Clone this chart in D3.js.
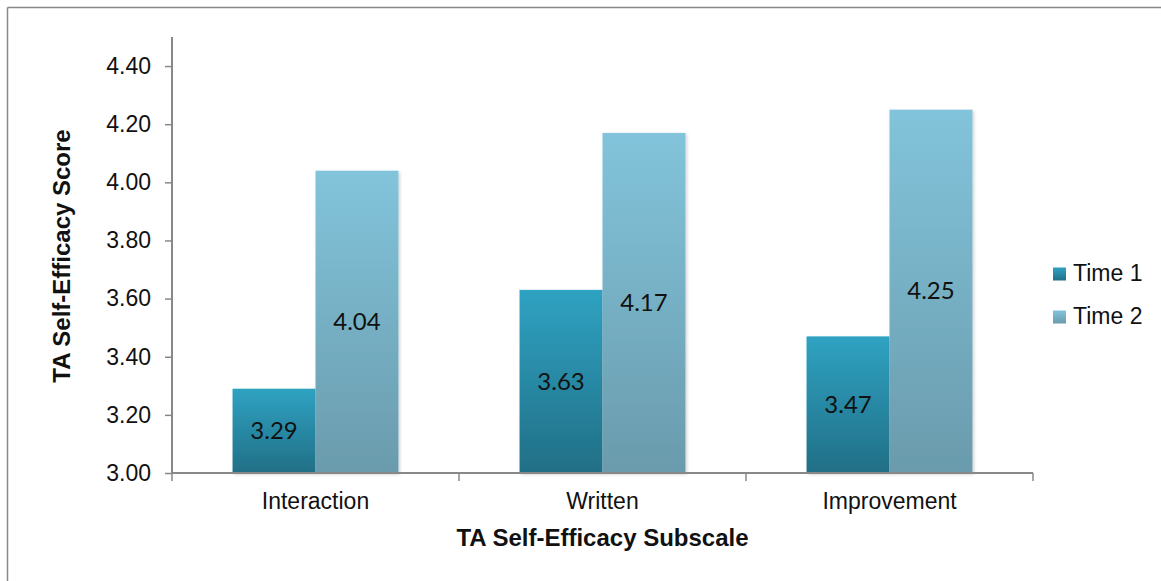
<!DOCTYPE html>
<html><head><meta charset="utf-8">
<script src="https://cdn.jsdelivr.net/npm/d3@7"></script>
<style>body{margin:0;background:#fff}svg{display:block}</style>
</head><body>
<svg id="c" width="1161" height="581"></svg>
<script>
const categories = ["Interaction", "Written", "Improvement"];
const seriesNames = ["Time 1", "Time 2"];
const time1 = [3.29, 3.63, 3.47];
const time2 = [4.04, 4.17, 4.25];
const yTicks = [3.00, 3.20, 3.40, 3.60, 3.80, 4.00, 4.20, 4.40];

(function(){
const svg = d3.select("#c");
const W = 1161, H = 581;
const pL = 172, pR = 1033, pT = 37, pB = 473;
const AF = "'Liberation Sans', Arial, sans-serif";

svg.append("line").attr("x1",7.5).attr("x2",W).attr("y1",7.5).attr("y2",7.5).attr("stroke","#888").attr("stroke-width",1.5);
svg.append("line").attr("x1",7.5).attr("x2",7.5).attr("y1",7.5).attr("y2",H).attr("stroke","#888").attr("stroke-width",1.5);

const defs = svg.append("defs");
const g1 = defs.append("linearGradient").attr("id","g1").attr("x1",0).attr("x2",0).attr("y1",0).attr("y2",1);
g1.append("stop").attr("offset","0%").attr("stop-color","#2fa2c2");
g1.append("stop").attr("offset","100%").attr("stop-color","#216f86");
const g2 = defs.append("linearGradient").attr("id","g2").attr("x1",0).attr("x2",0).attr("y1",0).attr("y2",1);
g2.append("stop").attr("offset","0%").attr("stop-color","#82c4db");
g2.append("stop").attr("offset","100%").attr("stop-color","#6a9bac");
const f = defs.append("filter").attr("id","sh").attr("x","-10%").attr("y","-10%").attr("width","130%").attr("height","130%");
f.append("feDropShadow").attr("dx",1.5).attr("dy",1.5).attr("stdDeviation",1.5).attr("flood-color","#000").attr("flood-opacity",0.18);

const x = d3.scaleBand().domain(categories).range([pL, pR]).paddingInner(0).paddingOuter(0);
const xs = d3.scaleBand().domain(seriesNames).range([0, x.bandwidth()]).paddingInner(0).paddingOuter(0.73);
const y = d3.scaleLinear().domain([3.0, 4.5]).range([pB, pT]);

const fills = {"Time 1":"url(#g1)","Time 2":"url(#g2)"};
const rows = categories.map((c,i)=>({cat:c, vals:[{s:"Time 1",v:time1[i]},{s:"Time 2",v:time2[i]}]}));

const bars = svg.append("g");
rows.forEach(r=>{
  r.vals.forEach(d=>{
    const bx = x(r.cat)+xs(d.s);
    bars.append("rect").attr("x",bx).attr("y",y(d.v)).attr("width",xs.bandwidth()).attr("height",pB-y(d.v))
      .attr("fill",fills[d.s]).attr("filter","url(#sh)");
  });
});
const lab = svg.append("g");
rows.forEach(r=>{
  r.vals.forEach(d=>{
    const bx = x(r.cat)+xs(d.s)+xs.bandwidth()/2;
    lab.append("text").attr("x",bx).attr("y",(y(d.v)+pB)/2+2).attr("text-anchor","middle").attr("dominant-baseline","middle")
      .attr("font-family","Lato, 'Open Sans', sans-serif").attr("font-size",24).attr("fill","#111").text(d.v.toFixed(2));
  });
});

const ya = svg.append("g").attr("transform",`translate(${pL},0)`)
  .call(d3.axisLeft(y).tickValues(yTicks).tickFormat(d3.format(".2f")).tickSizeOuter(0).tickSize(7).tickPadding(14));
ya.select(".domain").attr("stroke","#888").attr("stroke-width",2).attr("d",`M0,${pT}V${pB}`);
ya.selectAll(".tick line").attr("stroke","#888").attr("stroke-width",1.5);
ya.selectAll("text").attr("font-family",AF).attr("font-size",23).attr("fill","#111");

const xa = svg.append("g").attr("transform",`translate(0,${pB})`)
  .call(d3.axisBottom(x).tickSize(0).tickPadding(20));
xa.select(".domain").attr("stroke","#888").attr("stroke-width",2).attr("d",`M${pL},0H${pR}`);
xa.selectAll("text").attr("font-family",AF).attr("font-size",23).attr("fill","#111");
const bTicks = categories.map(c=>x(c)).concat([pR]);
xa.selectAll(".bt").data(bTicks).enter().append("line").attr("class","bt")
  .attr("x1",d=>d).attr("x2",d=>d).attr("y1",0).attr("y2",8).attr("stroke","#888").attr("stroke-width",1.5);

svg.append("text").attr("x",(pL+pR)/2).attr("y",546).attr("text-anchor","middle")
  .attr("font-family",AF).attr("font-weight","bold").attr("font-size",24).attr("fill","#111")
  .text("TA Self-Efficacy Subscale");
svg.append("text").attr("transform","translate(70,256) rotate(-90)").attr("text-anchor","middle")
  .attr("font-family",AF).attr("font-weight","bold").attr("font-size",24).attr("fill","#111")
  .text("TA Self-Efficacy Score");

const lg = svg.append("g");
seriesNames.forEach((s,i)=>{
  const cy = 274 + i*43;
  lg.append("rect").attr("x",1053).attr("y",cy-6.5).attr("width",13).attr("height",13).attr("fill",fills[s]);
  lg.append("text").attr("x",1073).attr("y",cy+1).attr("dominant-baseline","middle")
    .attr("font-family",AF).attr("font-size",23).attr("fill","#111").text(s);
});
})();
</script>
</body></html>
